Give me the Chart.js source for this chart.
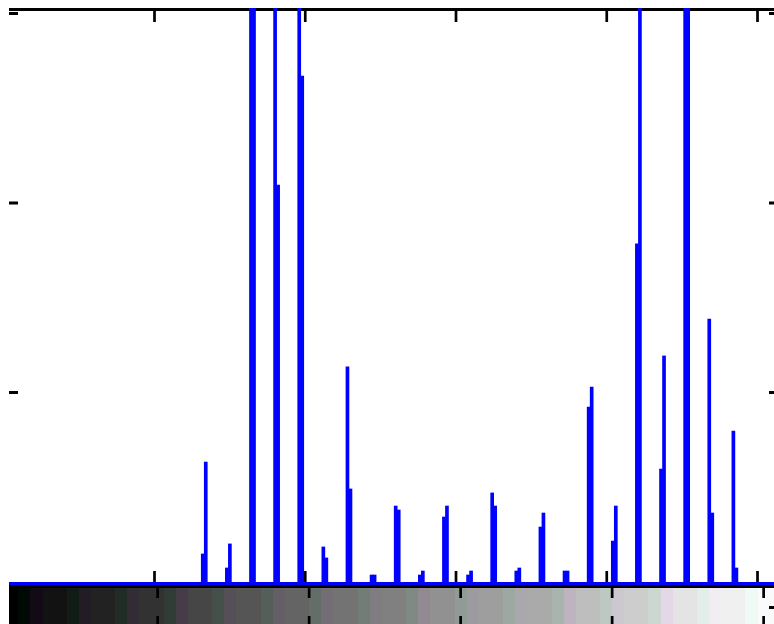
<!DOCTYPE html>
<html>
<head>
<meta charset="utf-8">
<script src="https://cdn.jsdelivr.net/npm/chart.js@4.4.0/dist/chart.umd.min.js"></script>
<style>
html, body { margin: 0; padding: 0; background: #fff; }
canvas { display: block; }
</style>
</head>
<body>
<canvas id="chart--hist" width="774" height="624"></canvas>
<script>

// gray levels that hold pixels, and the pixel count of each
const levels = [66, 67, 74, 75, 82, 83, 90, 91, 98, 99, 106, 107, 114, 115, 122, 123,
	130, 131, 138, 139, 146, 147, 154, 155, 162, 163, 170, 171, 178, 179, 186, 187,
	194, 195, 202, 203, 210, 211, 218, 219, 226, 227, 234, 235, 242, 243]
const counts = [148, 633, 74, 201, 5200, 4800, 6100, 2095, 3900, 2670, 185, 127, 1135, 491, 37, 37,
	401, 380, 37, 58, 343, 401, 37, 58, 470, 401, 58, 74, 290, 364, 58, 58,
	923, 1029, 216, 401, 1784, 4300, 596, 1193, 5500, 5000, 1388, 364, 797, 74]

const xTicks = [50, 100, 150, 200, 250]
const yTicks = [1000, 2000, 3000]
const yMax = 3029

// colorbar: one neutral gray per group of 4 cells, cells 4 levels wide
const barGrays = [18, 34, 50, 70, 85, 100, 115, 128, 145, 158, 170, 190, 205, 228, 240, 250]
const barTicks = [50, 100, 150, 200, 250]

var cellColors = ['rgb(0,0,0)']
for (var g = 0; g < barGrays.length; g++) {
	var a = g == 0 ? 0 : barGrays[g - 1]
	var b = barGrays[g]
	cellColors.push('rgb(' + a + ',' + Math.min(255, a + 10) + ',' + Math.min(255, a + 4) + ')')
	cellColors.push('rgb(' + b + ',' + Math.min(255, a + 10) + ',' + Math.min(255, b + 2) + ')')
	cellColors.push('rgb(' + b + ',' + b + ',' + b + ')')
	cellColors.push('rgb(' + b + ',' + b + ',' + b + ')')
}

const frame = {
	id: 'frame',
	beforeDatasetsDraw(chart) {
		const ctx = chart.ctx
		const area = chart.chartArea
		ctx.save()
		ctx.fillStyle = '#000'
		ctx.fillRect(area.left, 8, area.right - area.left, 3)
		ctx.restore()
	},
	afterDatasetsDraw(chart) {
		const ctx = chart.ctx
		const area = chart.chartArea
		const x = chart.scales.x
		const y = chart.scales.y
		const xc = chart.scales.xc
		ctx.save()

		// stem baseline and axis line under it
		ctx.fillStyle = '#0000ff'
		ctx.fillRect(area.left, 582, area.right - area.left, 3)
		ctx.fillStyle = '#000'
		ctx.fillRect(area.left, 585, area.right - area.left, 3)

		// inward ticks
		xTicks.forEach(function(v) {
			var px = x.getPixelForValue(v)
			ctx.fillRect(px - 1.35, 11, 2.7, 11)
			ctx.fillRect(px - 1.35, 571, 2.7, 11)
		})
		yTicks.forEach(function(v) {
			var py = y.getPixelForValue(v)
			ctx.fillRect(area.left, py - 1.5, 9, 3)
			ctx.fillRect(area.right - 5, py - 1.5, 5, 3)
		})

		// colorbar
		for (var i = 0; i < cellColors.length; i++) {
			var x1 = Math.max(area.left, Math.round(xc.getPixelForValue(i * 4)))
			var x2 = Math.min(area.right, Math.round(xc.getPixelForValue(i * 4 + 4)))
			if (x2 <= x1) continue
			ctx.fillStyle = cellColors[i]
			ctx.fillRect(x1, 588, x2 - x1, 36)
		}
		ctx.fillStyle = '#000'
		barTicks.forEach(function(v) {
			var px = xc.getPixelForValue(v)
			ctx.fillRect(px - 1.35, 588, 2.7, 10)
			ctx.fillRect(px - 1.35, 616, 2.7, 8)
		})
		ctx.fillRect(area.right - 5, 606, 5, 3)
		ctx.restore()
	}
}

const ctx = document.getElementById('chart--hist').getContext('2d')
const chart__hist = new Chart(ctx, {
	type: 'bar',
	data: {
		datasets: [{
			label: 'Count',
			data: levels.map(function(v, i) { return { x: v, y: counts[i] } }),
			backgroundColor: '#0000ff',
			borderWidth: 0,
			barPercentage: 1,
			categoryPercentage: 1
		}]
	},
	options: {
		responsive: false,
		animation: false,
		devicePixelRatio: 1,
		layout: {
			padding: { left: 9, right: 0, top: 8, bottom: 42 }
		},
		plugins: {
			legend: { display: false },
			tooltip: { enabled: false }
		},
		scales: {
			x: {
				type: 'linear',
				display: false,
				offset: false,
				min: 1.74,
				max: 255.47,
				ticks: { stepSize: 50 }
			},
			xc: {
				type: 'linear',
				axis: 'x',
				display: false,
				offset: false,
				min: 0.94,
				max: 253.42
			},
			y: {
				display: false,
				min: 0,
				max: yMax
			}
		}
	},
	plugins: [frame]
})
</script>
</body>
</html>
